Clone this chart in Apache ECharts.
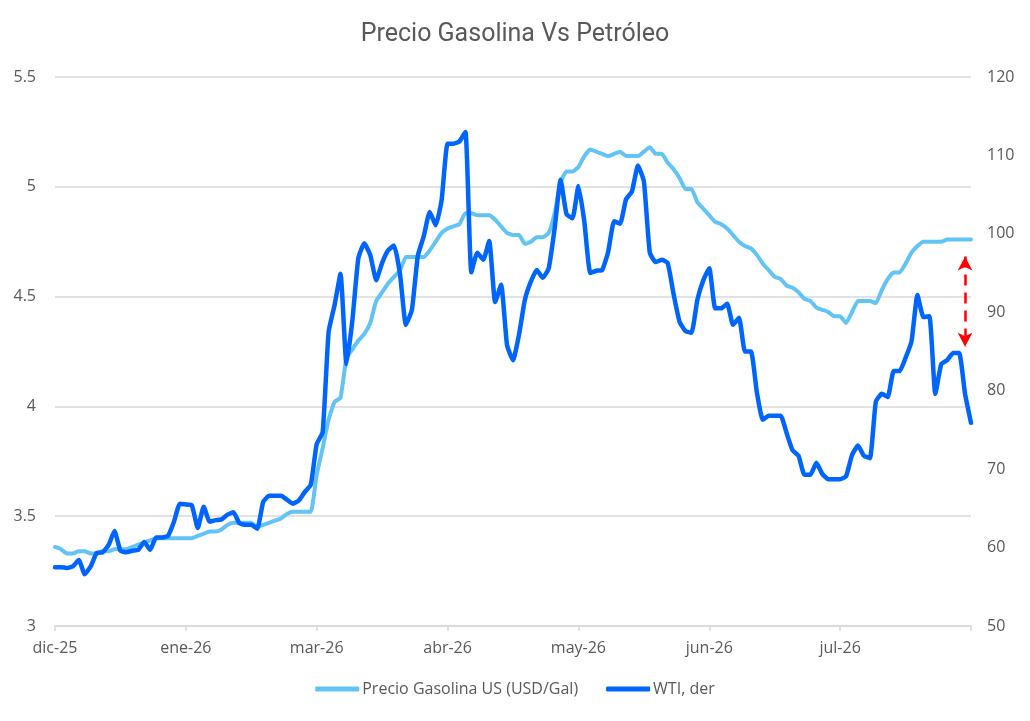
<!DOCTYPE html>
<html>
<head>
<meta charset="utf-8">
<title>Precio Gasolina Vs Petróleo</title>
<script src="https://cdn.jsdelivr.net/npm/echarts@6/dist/echarts.min.js"></script>
<style>
  html, body { margin: 0; padding: 0; background: #fff; }
  #main { width: 1030px; height: 721px; }
</style>
</head>
<body>
<div id="main"></div>
<script>
// one tick label every 22 points (business days)
const tickLabels = ['dic-25', 'ene-26', 'mar-26', 'abr-26', 'may-26', 'jun-26', 'jul-26', ''];
const pointsPerTick = 22;

// Precio Gasolina US (USD/Gal), eje izquierdo
const gasolina = [
  3.36, 3.35, 3.33, 3.33, 3.34, 3.34, 3.33, 3.33, 3.34, 3.34, 3.35, 3.35, 3.35, 3.36, 3.37, 3.38, 3.39, 3.40, 3.40, 3.40,
  3.40, 3.40, 3.40, 3.40, 3.41, 3.42, 3.43, 3.43, 3.44, 3.46, 3.47, 3.47, 3.47, 3.47, 3.45, 3.46, 3.47, 3.48, 3.49, 3.51,
  3.52, 3.52, 3.52, 3.52, 3.69, 3.81, 3.94, 4.02, 4.04, 4.22, 4.26, 4.30, 4.33, 4.38, 4.48, 4.52, 4.56, 4.59, 4.62, 4.68,
  4.68, 4.68, 4.68, 4.71, 4.75, 4.79, 4.81, 4.82, 4.83, 4.88, 4.88, 4.87, 4.87, 4.87, 4.85, 4.82, 4.79, 4.78, 4.78, 4.74,
  4.75, 4.77, 4.77, 4.79, 4.88, 5.02, 5.07, 5.07, 5.09, 5.14, 5.17, 5.16, 5.15, 5.14, 5.15, 5.16, 5.14, 5.14, 5.14, 5.16,
  5.18, 5.15, 5.15, 5.11, 5.08, 5.04, 4.99, 4.99, 4.93, 4.90, 4.87, 4.84, 4.83, 4.81, 4.78, 4.75, 4.73, 4.72, 4.69, 4.65,
  4.62, 4.59, 4.58, 4.55, 4.54, 4.52, 4.49, 4.48, 4.45, 4.44, 4.43, 4.41, 4.41, 4.38, 4.43, 4.48, 4.48, 4.48, 4.47, 4.53,
  4.58, 4.61, 4.61, 4.65, 4.70, 4.73, 4.75, 4.75, 4.75, 4.75, 4.76, 4.76, 4.76, 4.76, 4.76
];

// WTI (USD/bbl), eje derecho
const wti = [
  57.5, 57.5, 57.4, 57.6, 58.4, 56.6, 57.6, 59.3, 59.4, 60.3, 62.1, 59.6, 59.4, 59.6, 59.7, 60.7, 59.7, 61.3, 61.3, 61.5,
  63.3, 65.6, 65.5, 65.4, 62.5, 65.2, 63.3, 63.5, 63.6, 64.2, 64.5, 63.1, 62.9, 62.9, 62.4, 65.8, 66.6, 66.6, 66.6, 66.1,
  65.6, 66.0, 67.1, 68.0, 73.2, 74.7, 87.5, 90.9, 94.9, 83.4, 89.0, 96.9, 98.8, 97.3, 94.1, 96.3, 97.9, 98.5, 94.9, 88.4,
  90.3, 97.2, 99.7, 102.8, 101.1, 104.3, 111.5, 111.5, 111.8, 113.0, 95.1, 97.6, 96.7, 99.1, 91.3, 93.5, 85.8, 83.9, 87.1, 91.6,
  93.9, 95.4, 94.4, 95.6, 100.7, 106.9, 102.5, 102.0, 106.1, 101.5, 95.0, 95.3, 95.4, 97.7, 101.6, 101.3, 104.4, 105.4, 108.7, 106.7,
  97.6, 96.4, 96.7, 96.3, 92.3, 88.8, 87.6, 87.4, 91.6, 94.1, 95.6, 90.5, 90.5, 91.1, 88.4, 89.3, 85.0, 85.0, 79.8, 76.3,
  76.8, 76.8, 76.8, 74.6, 72.4, 71.7, 69.3, 69.3, 70.8, 69.4, 68.7, 68.7, 68.7, 69.1, 71.8, 73.0, 71.7, 71.4, 78.6, 79.6,
  79.2, 82.5, 82.5, 84.2, 86.3, 92.2, 89.4, 89.5, 79.6, 83.4, 83.9, 84.8, 84.8, 79.6, 75.9
];

// flecha roja punteada (en escala WTI)
const arrowIndex = 153;
const arrowFrom = 97.1;
const arrowTo = 85.6;

const categories = wti.map((v, i) => i);
const font = 'Open Sans';
const grey = '#595959';

const chart = echarts.init(document.getElementById('main'));
chart.setOption({
  animation: false,
  title: {
    text: 'Precio Gasolina Vs Petróleo',
    left: 'center',
    top: 17,
    textStyle: { fontFamily: 'Roboto', fontWeight: 'normal', fontSize: 25, color: grey }
  },
  grid: { left: 55, right: 59, top: 77, bottom: 95 },
  legend: {
    bottom: 19,
    left: 'center',
    itemWidth: 44,
    itemHeight: 5,
    itemGap: 28,
    icon: 'roundRect',
    textStyle: { fontFamily: font, fontSize: 16, color: grey, padding: [0, 0, 0, -2] },
    data: ['Precio Gasolina US (USD/Gal)', 'WTI, der']
  },
  xAxis: {
    type: 'category',
    data: categories,
    boundaryGap: false,
    axisLine: { lineStyle: { color: '#d9d9d9', width: 1.5 } },
    axisTick: { interval: pointsPerTick - 1, length: 5, lineStyle: { color: '#d9d9d9', width: 1.5 } },
    axisLabel: {
      interval: pointsPerTick - 1,
      margin: 14,
      fontFamily: font, fontSize: 16, color: grey,
      formatter: (v) => tickLabels[Math.round(v / pointsPerTick)] || ''
    },
    splitLine: { show: false }
  },
  yAxis: [
    {
      type: 'value',
      min: 3, max: 5.5, interval: 0.5,
      axisLine: { show: false },
      axisTick: { show: false },
      axisLabel: { margin: 19, fontFamily: font, fontSize: 16, color: grey },
      splitLine: { lineStyle: { color: '#d9d9d9', width: 1.5 } }
    },
    {
      type: 'value',
      min: 50, max: 120, interval: 10,
      axisLine: { show: false },
      axisTick: { show: false },
      axisLabel: { margin: 16, fontFamily: font, fontSize: 16, color: grey },
      splitLine: { show: false }
    }
  ],
  series: [
    {
      name: 'Precio Gasolina US (USD/Gal)',
      type: 'line',
      data: gasolina,
      yAxisIndex: 0,
      showSymbol: false,
      smooth: 0.15,
      color: '#62c3f5',
      lineStyle: { width: 4, cap: 'round', join: 'round' }
    },
    {
      name: 'WTI, der',
      type: 'line',
      data: wti,
      yAxisIndex: 1,
      showSymbol: false,
      smooth: 0.15,
      color: '#0064ff',
      lineStyle: { width: 4.5, cap: 'round', join: 'round' },
      markLine: {
        silent: true,
        symbol: ['arrow', 'arrow'],
        symbolSize: [11, 14],
        label: { show: false },
        lineStyle: { color: '#ff0000', type: [11, 7], width: 2.5 },
        data: [[
          { xAxis: arrowIndex, yAxis: arrowFrom },
          { xAxis: arrowIndex, yAxis: arrowTo }
        ]]
      }
    }
  ]
});
</script>
</body>
</html>
